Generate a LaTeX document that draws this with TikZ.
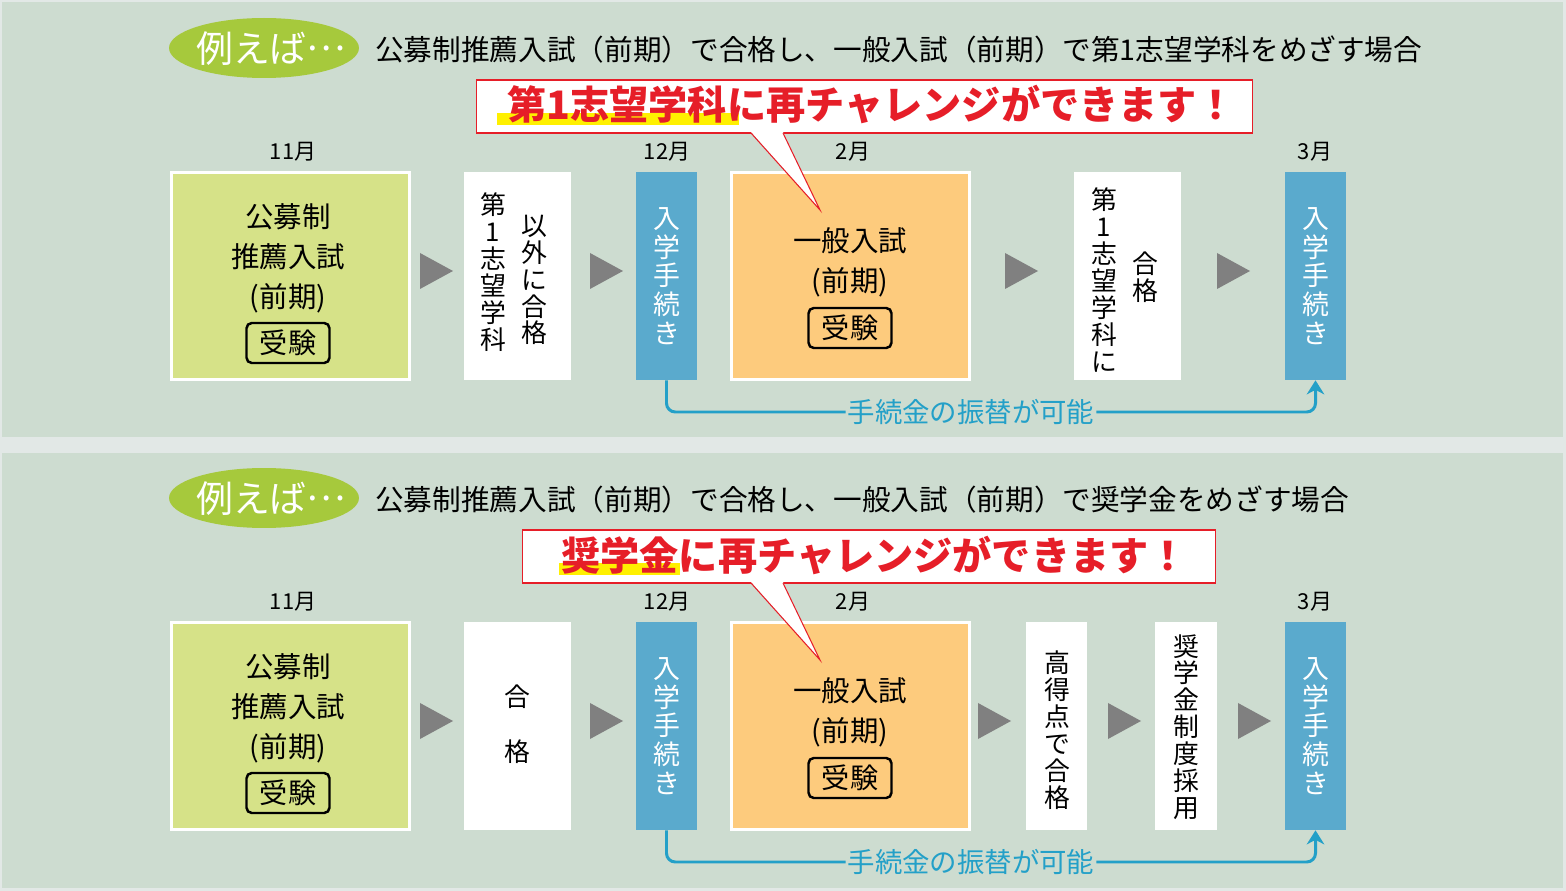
\documentclass[tikz,border=0pt]{standalone}
\usepackage{fontspec}
\setmainfont{Noto Sans CJK JP}
\usetikzlibrary{shapes.geometric,arrows.meta}
\definecolor{panelbg}{HTML}{CDDCD0}
\definecolor{gapbg}{HTML}{E2E8E6}
\definecolor{badgegreen}{HTML}{A6C93C}
\definecolor{examgreen}{HTML}{D6E288}
\definecolor{examorange}{HTML}{FDCB7D}
\definecolor{procblue}{HTML}{5AAACD}
\definecolor{linkblue}{HTML}{23A0C8}
\definecolor{calloutred}{HTML}{E61E28}
\definecolor{markyellow}{HTML}{FFF000}
\definecolor{arrowgray}{HTML}{808080}
\begin{document}
\begin{tikzpicture}[x=0.02cm, y=-0.02cm,
	every node/.style={inner sep=0pt},
	badge/.style={ellipse, fill=badgegreen, minimum width=3.8cm, minimum height=1.2cm},
	badgetext/.style={text=white, font=\fontsize{21pt}{24pt}\selectfont},
	headline/.style={anchor=west, font=\fontsize{16.3pt}{20pt}\selectfont},
	callout/.style={fill=white, draw=calloutred, line width=0.6pt, minimum height=1.06cm},
	callouttext/.style={anchor=west, text=calloutred, font=\fontsize{22.3pt}{26pt}\selectfont\bfseries},
	month/.style={font=\fontsize{12.5pt}{14pt}\selectfont},
	stage/.style={draw=white, line width=1.7pt, minimum width=4.75cm, minimum height=4.13cm},
	note/.style={fill=white, minimum height=4.16cm},
	proc/.style={fill=procblue, text=white, minimum width=1.22cm, minimum height=4.16cm, align=center, font=\fontsize{15.3pt}{16.4pt}\selectfont},
	boxtext/.style={align=center, font=\fontsize{16.2pt}{22.7pt}\selectfont},
	exam/.style={draw, line width=1.4pt, rounded corners=3pt, minimum width=1.66cm, minimum height=0.8cm, font=\fontsize{16pt}{18pt}\selectfont},
	tate/.style={align=center, font=\fontsize{14.7pt}{15.3pt}\selectfont},
	link/.style={linkblue, line width=1.7pt, rounded corners=5pt},
	linktext/.style={text=linkblue, inner xsep=1pt, font=\fontsize{15.6pt}{18pt}\selectfont}
]
	% background panels
	\fill[gapbg] (0,0) rectangle (1566,891);
	\fill[panelbg] (2,2) rectangle (1563,437);
	\fill[panelbg] (2,453) rectangle (1563,888);

	% first example
	\node[badge] (a-badge) at (264,48) {};
	\node[badgetext] at (271,49) {例えば\raisebox{0.33em}{…}};
	\node[headline] (a-head) at (375,50) {公募制推薦入試（前期）で合格し、一般入試（前期）で第1志望学科をめざす場合};

	\node[month] (a-nov) at (293,152) {11月};
	\node[month] (a-dec) at (667,152) {12月};
	\node[month] (a-feb) at (853,152) {2月};
	\node[month] (a-mar) at (1315,152) {3月};

	\node[stage, fill=examgreen] (a-rec) at (290.5,276) {};
	\node[boxtext] (a-rectext) at (288,258) {公募制\\推薦入試\\(前期)};
	\node[exam] (a-recexam) at (288,343) {受験};
	\node[note, minimum width=2.14cm] (a-other) at (517.5,276) {};
	\node[tate] (a-otherl) at (493,272) {第\\1\\志\\望\\学\\科};
	\node[tate] (a-otherr) at (534,280) {以\\外\\に\\合\\格};
	\node[proc] (a-proc1) at (666.5,276) {入\\学\\手\\続\\き};
	\node[stage, fill=examorange] (a-gen) at (850.5,276) {};
	\node[boxtext] (a-gentext) at (850,262.5) {一般入試\\(前期)};
	\node[exam] (a-genexam) at (850,328) {受験};
	\node[note, minimum width=2.14cm] (a-pass) at (1127.5,276) {};
	\node[tate] (a-passl) at (1104,280) {第\\1\\志\\望\\学\\科\\に};
	\node[tate] (a-passr) at (1145,277) {合\\格};
	\node[proc] (a-proc2) at (1315.5,276) {入\\学\\手\\続\\き};
	\foreach \x in {420,590,1005,1217}
		\fill[arrowgray] (\x,253) -- (\x+33,271) -- (\x,289) -- cycle;

	\node[callout, minimum width=15.54cm] (a-call) at (864.5,106.5) {};
	\fill[markyellow] (497,113) rectangle (739,125);
	\node[callouttext] (a-calltext) at (507,105) {第1志望学科に再チャレンジができます！};
	\coordinate (a-tip) at (820,210);
	\fill[white] (751,132) -- (a-tip) -- (783,132) -- cycle;
	\draw[calloutred, line width=0.6pt] (751,133) -- (a-tip) -- (783,133);

	\node[linktext] (a-link) at (971,412) {手続金の振替が可能};
	\draw[link] (a-proc1.south) |- (a-link.west);
	\draw[link, -{Stealth[length=8pt, width=10pt]}] (a-link.east) -| (a-proc2.south);

	% second example
	\begin{scope}[shift={(0,450)}]
	\node[badge] (b-badge) at (264,48) {};
	\node[badgetext] at (271,49) {例えば\raisebox{0.33em}{…}};
	\node[headline] (b-head) at (375,50) {公募制推薦入試（前期）で合格し、一般入試（前期）で奨学金をめざす場合};

	\node[month] (b-nov) at (293,152) {11月};
	\node[month] (b-dec) at (667,152) {12月};
	\node[month] (b-feb) at (853,152) {2月};
	\node[month] (b-mar) at (1315,152) {3月};

	\node[stage, fill=examgreen] (b-rec) at (290.5,276) {};
	\node[boxtext] (b-rectext) at (288,258) {公募制\\推薦入試\\(前期)};
	\node[exam] (b-recexam) at (288,343) {受験};
	\node[note, minimum width=2.14cm] (b-pass) at (517.5,276) {};
	\node[align=center, font=\fontsize{14.7pt}{31pt}\selectfont] (b-passtext) at (517,274) {合\\格};
	\node[proc] (b-proc1) at (666.5,276) {入\\学\\手\\続\\き};
	\node[stage, fill=examorange] (b-gen) at (850.5,276) {};
	\node[boxtext] (b-gentext) at (850,262.5) {一般入試\\(前期)};
	\node[exam] (b-genexam) at (850,328) {受験};
	\node[note, minimum width=1.22cm] (b-high) at (1056.5,276) {};
	\node[tate] (b-hightext) at (1057,280) {高\\得\\点\\で\\合\\格};
	\node[note, minimum width=1.24cm] (b-grant) at (1186,276) {};
	\node[tate] (b-granttext) at (1186,277) {奨\\学\\金\\制\\度\\採\\用};
	\node[proc] (b-proc2) at (1315.5,276) {入\\学\\手\\続\\き};
	\foreach \x in {420,590,978,1108,1238}
		\fill[arrowgray] (\x,253) -- (\x+33,271) -- (\x,289) -- cycle;

	\node[callout, minimum width=13.88cm] (b-call) at (869,106.5) {};
	\fill[markyellow] (559,113) rectangle (680,125);
	\node[callouttext] (b-calltext) at (561,105) {奨学金に再チャレンジができます！};
	\coordinate (b-tip) at (820,210);
	\fill[white] (751,132) -- (b-tip) -- (783,132) -- cycle;
	\draw[calloutred, line width=0.6pt] (751,133) -- (b-tip) -- (783,133);

	\node[linktext] (b-link) at (971,412) {手続金の振替が可能};
	\draw[link] (b-proc1.south) |- (b-link.west);
	\draw[link, -{Stealth[length=8pt, width=10pt]}] (b-link.east) -| (b-proc2.south);
	\end{scope}
\end{tikzpicture}
\end{document}
